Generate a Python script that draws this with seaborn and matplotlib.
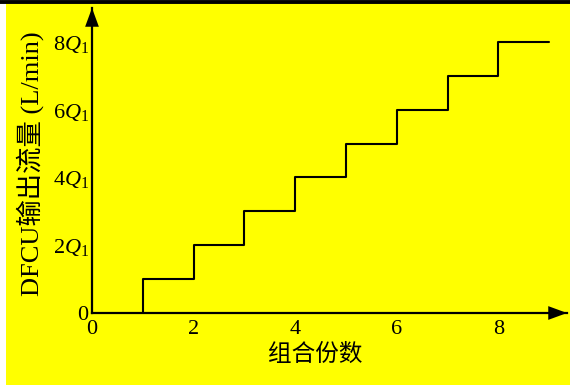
import matplotlib
matplotlib.use("Agg")
import matplotlib.pyplot as plt
import seaborn as sns
import pandas as pd
from matplotlib.patches import Rectangle
from matplotlib.lines import Line2D

# Combination count vs. DFCU output flow (in units of Q1)
combos = [1, 1, 2, 3, 4, 5, 6, 7, 8, 9]
flow_q1 = [0, 1, 2, 3, 4, 5, 6, 7, 8, 8]
x_ticks = [0, 2, 4, 6, 8]
y_ticks = [0, 2, 4, 6, 8]
y_tick_labels = [r"$0\;$", r"$2\mathit{Q}_1$", r"$4\mathit{Q}_1$", r"$6\mathit{Q}_1$", r"$8\mathit{Q}_1$"]
x_label = "组合份数"
y_label = "DFCU输出流量 (L/min)"

sns.set_theme(style="white")
plt.rcParams["font.family"] = ["Liberation Serif", "Noto Sans CJK SC"]
plt.rcParams["mathtext.fontset"] = "custom"
plt.rcParams["mathtext.rm"] = "Liberation Serif"
plt.rcParams["mathtext.it"] = "Liberation Serif:italic"

W, H = 570, 385
fig = plt.figure(figsize=(W / 100, H / 100), dpi=100, facecolor="white")

# yellow panel and top rule, kept behind the axes
fig.patches.append(Rectangle((6 / W, 0), 1 - 6 / W, 1 - 3 / H, transform=fig.transFigure,
                             facecolor="#ffff00", edgecolor="none", zorder=-10))
fig.add_artist(Line2D([0, 1], [1 - 1.8 / H, 1 - 1.8 / H], transform=fig.transFigure,
                      color="black", lw=2.8, zorder=-5))

x0, y0 = 92, 313
x_tip, y_tip = 567, 8
ax = fig.add_axes([x0 / W, (H - y0) / H, (x_tip - x0) / W, (y0 - y_tip) / H])
ax.set_facecolor("none")

df = pd.DataFrame({"n": combos, "q": flow_q1})
sns.lineplot(data=df, x="n", y="q", drawstyle="steps-post", estimator=None, sort=False,
             color="black", lw=1.5, ax=ax)

ax.set_xlim(0, (x_tip - x0) / 50.8)
ax.set_ylim(0, (y0 - y_tip) / 33.9)

for s in ["top", "right"]:
    ax.spines[s].set_visible(False)
for s in ["left", "bottom"]:
    ax.spines[s].set_color("black")
    ax.spines[s].set_linewidth(1.6)
    ax.spines[s].set_zorder(3)

# arrow heads at the axis ends
arrow = dict(arrowstyle="-|>,head_length=0.9,head_width=0.33", color="black", lw=0,
             mutation_scale=15, shrinkA=0, shrinkB=0)
ax.annotate("", xy=(1, 0), xycoords="axes fraction", xytext=(0.95, 0), arrowprops=arrow,
            annotation_clip=False)
ax.annotate("", xy=(0, 1), xycoords="axes fraction", xytext=(0, 0.92), arrowprops=arrow,
            annotation_clip=False)

ax.set_xticks(x_ticks)
ax.set_yticks(y_ticks)
ax.set_yticklabels(y_tick_labels)
ax.tick_params(axis="both", direction="in", length=6, width=1.5, color="black",
               labelsize=16, labelcolor="black")
ax.tick_params(axis="x", pad=5)
ax.tick_params(axis="y", pad=2)

ax.set_xlabel("")
ax.set_ylabel("")
fig.text(315 / W, 1 - 355 / H, x_label, ha="center", va="center", fontsize=17, color="black")
fig.text(30 / W, 1 - 164 / H, y_label, ha="center", va="center", rotation=90,
         fontsize=19, color="black")

fig.savefig("out.png", dpi=100, facecolor="white")
